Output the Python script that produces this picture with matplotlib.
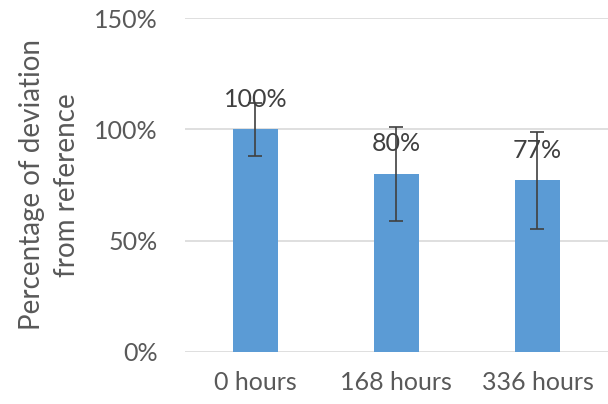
import numpy as np
import matplotlib
matplotlib.use('Agg')
import matplotlib.pyplot as plt

# data
labels = ['0 hours', '168 hours', '336 hours']
values = [100, 80, 77]
errors = [12, 21, 22]
value_text = ['100%', '80%', '77%']

plt.rcParams['font.family'] = ['Lato', 'DejaVu Sans']

grey = '#595959'
bar_color = '#5B9BD5'

fig = plt.figure(figsize=(6.08, 4.04), dpi=100)
ax = fig.add_axes([0.304, 0.1295, 0.696, 0.8255])

x = np.arange(len(labels))
ax.bar(x, values, width=0.32, color=bar_color, zorder=2)
ax.errorbar(x, values, yerr=errors, fmt='none', ecolor='#404040',
            elinewidth=1.2, capsize=5, capthick=1.2, zorder=3)

for xi, v, t in zip(x, values, value_text):
    ax.text(xi, v + 13.5, t, ha='center', va='center', fontsize=18,
            color='#404040', zorder=4)

ax.set_xlim(-0.5, len(labels) - 0.5)
ax.set_ylim(0, 150)
ax.set_yticks([0, 50, 100, 150])
ax.set_yticklabels(['0%', '50%', '100%', '150%'])
ax.set_xticks(x)
ax.set_xticklabels(labels)

ax.yaxis.grid(True, color='#D9D9D9', linewidth=1.2, zorder=0)
ax.set_axisbelow(True)
for s in ax.spines.values():
    s.set_visible(False)
ax.tick_params(axis='both', length=0, labelsize=18, colors=grey)
ax.tick_params(axis='y', pad=19.5)
ax.tick_params(axis='x', pad=14)

ax.set_ylabel('Percentage of deviation\nfrom reference', fontsize=20,
              color=grey, labelpad=10, linespacing=1.45)

fig.savefig('out.png', dpi=100)
